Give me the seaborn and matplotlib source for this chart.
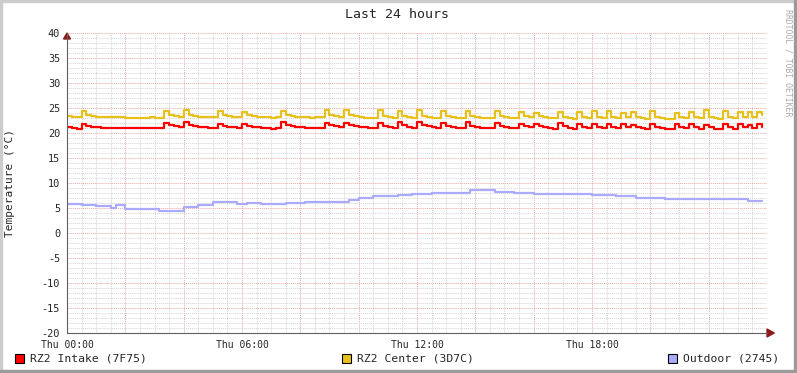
import matplotlib
matplotlib.use("Agg")
import matplotlib.pyplot as plt
from matplotlib.patches import Rectangle, Polygon
from matplotlib.ticker import MultipleLocator
import numpy as np
import seaborn as sns

# readings every 10 minutes, Thu 00:00 .. 23:50
intake = [
    21.3, 21.1, 20.9, 21.9, 21.5, 21.3, 21.2, 21.1, 21.1, 21.1, 21.1, 21.1,
    21.1, 21.0, 21.1, 21.1, 21.1, 21.1, 21.0, 21.1, 22.0, 21.6, 21.4, 21.2,
    22.2, 21.6, 21.4, 21.3, 21.2, 21.1, 21.1, 21.9, 21.5, 21.3, 21.2, 21.1,
    21.9, 21.5, 21.3, 21.2, 21.1, 21.1, 20.9, 21.1, 22.2, 21.6, 21.4, 21.3,
    21.2, 21.1, 21.1, 21.0, 21.1, 22.1, 21.6, 21.4, 21.2, 22.1, 21.6, 21.4,
    21.3, 21.2, 21.1, 21.0, 22.0, 21.5, 21.3, 21.1, 22.2, 21.6, 21.3, 21.1,
    22.3, 21.6, 21.4, 21.2, 21.1, 22.1, 21.5, 21.3, 21.1, 21.0, 22.2, 21.5,
    21.3, 21.1, 21.0, 21.0, 22.0, 21.5, 21.3, 21.1, 21.0, 21.9, 21.4, 21.2,
    21.9, 21.4, 21.2, 21.0, 20.9, 22.0, 21.4, 21.1, 20.9, 21.9, 21.3, 21.0,
    21.8, 21.3, 21.0, 21.9, 21.3, 21.0, 21.8, 21.2, 21.7, 21.2, 21.0, 20.8,
    21.8, 21.3, 21.0, 20.8, 20.8, 21.9, 21.3, 21.0, 21.8, 21.2, 20.9, 21.7,
    21.2, 20.9, 20.8, 21.8, 21.2, 20.9, 21.8, 21.2, 21.7, 21.1, 21.8, 21.3,
]
center = [
    23.4, 23.2, 23.2, 24.4, 23.7, 23.5, 23.3, 23.3, 23.3, 23.2, 23.3, 23.3,
    23.1, 23.1, 23.1, 23.1, 23.1, 23.2, 23.1, 23.1, 24.5, 23.6, 23.4, 23.3,
    24.6, 23.6, 23.4, 23.2, 23.2, 23.2, 23.2, 24.4, 23.6, 23.4, 23.2, 23.2,
    24.3, 23.6, 23.4, 23.2, 23.2, 23.2, 23.1, 23.2, 24.5, 23.6, 23.4, 23.2,
    23.2, 23.2, 23.1, 23.2, 23.2, 24.6, 23.6, 23.4, 23.2, 24.7, 23.6, 23.4,
    23.2, 23.1, 23.1, 23.1, 24.6, 23.5, 23.3, 23.1, 24.5, 23.5, 23.3, 23.1,
    24.6, 23.5, 23.3, 23.1, 23.1, 24.4, 23.5, 23.3, 23.1, 23.1, 24.5, 23.5,
    23.3, 23.1, 23.1, 23.0, 24.4, 23.4, 23.2, 23.1, 23.0, 24.3, 23.4, 23.2,
    24.1, 23.4, 23.2, 23.0, 23.0, 24.3, 23.3, 23.1, 22.9, 24.2, 23.3, 23.1,
    24.4, 23.3, 23.1, 24.5, 23.3, 23.1, 24.1, 23.2, 24.3, 23.3, 23.1, 22.9,
    24.4, 23.3, 23.1, 22.9, 22.9, 24.1, 23.3, 23.0, 24.2, 23.3, 23.0, 24.7,
    23.3, 23.1, 22.9, 24.5, 23.3, 23.0, 24.3, 23.2, 24.2, 23.2, 24.2, 23.6,
]
outdoor = [
    5.9, 5.9, 5.9, 5.6, 5.6, 5.6, 5.5, 5.5, 5.5, 5.1, 5.7, 5.7,
    4.9, 4.9, 4.9, 4.9, 4.9, 4.9, 4.9, 4.5, 4.5, 4.5, 4.5, 4.5,
    5.3, 5.3, 5.3, 5.7, 5.7, 5.7, 6.2, 6.2, 6.2, 6.2, 6.2, 5.9,
    5.9, 6.1, 6.1, 6.1, 5.9, 5.9, 5.9, 5.9, 5.9, 6.1, 6.1, 6.1,
    6.1, 6.3, 6.3, 6.3, 6.3, 6.3, 6.3, 6.3, 6.3, 6.3, 6.6, 6.6,
    7.1, 7.1, 7.1, 7.5, 7.5, 7.5, 7.5, 7.5, 7.7, 7.7, 7.7, 7.9,
    7.9, 7.9, 7.9, 8.1, 8.1, 8.1, 8.1, 8.1, 8.1, 8.1, 8.1, 8.6,
    8.6, 8.6, 8.6, 8.6, 8.3, 8.3, 8.3, 8.3, 8.1, 8.1, 8.1, 8.1,
    7.9, 7.9, 7.9, 7.9, 7.9, 7.8, 7.8, 7.8, 7.8, 7.8, 7.8, 7.8,
    7.7, 7.7, 7.7, 7.7, 7.7, 7.5, 7.5, 7.5, 7.5, 7.1, 7.1, 7.1,
    7.1, 7.1, 7.1, 6.9, 6.9, 6.9, 6.9, 6.9, 6.9, 6.9, 6.9, 6.8,
    6.8, 6.8, 6.8, 6.8, 6.8, 6.8, 6.8, 6.8, 6.5, 6.5, 6.5, 6.5,
]
hours = np.arange(len(intake)) / 6.0

series_names = ["RZ2 Intake (7F75)", "RZ2 Center (3D7C)", "Outdoor (2745)"]
series_colors = ["#FF0000", "#E8C01C", "#AAAAFF"]
tick_hours = [0, 6, 12, 18]
tick_labels = ["Thu 00:00", "Thu 06:00", "Thu 12:00", "Thu 18:00"]

sns.set_style("white")
plt.rcParams["font.family"] = ["DejaVu Sans Mono"]
plt.rcParams["axes.unicode_minus"] = False

fig = plt.figure(figsize=(7.97, 3.73), dpi=100, facecolor="white")
ax = fig.add_axes([67 / 797, 40 / 373, 700 / 797, 300 / 373])
ax.set_facecolor("white")

for vals, col in zip([intake, center, outdoor], series_colors):
    sns.lineplot(x=hours, y=vals, ax=ax, color=col, linewidth=1.6,
                 drawstyle="steps-post")

ax.set_xlim(0, 24)
ax.set_ylim(-20, 40)

# grid: gray minor, red major
ax.xaxis.set_minor_locator(MultipleLocator(0.5))
ax.yaxis.set_minor_locator(MultipleLocator(1))
ax.set_xticks(range(0, 24, 2))
ax.set_xticklabels([tick_labels[tick_hours.index(h)] if h in tick_hours else ""
                    for h in range(0, 24, 2)])
ax.set_yticks(range(-20, 45, 5))
ax.grid(which="minor", color="#D4D4D4", linestyle=(0, (1, 1)), linewidth=0.7)
ax.grid(which="major", color="#E8A8A8", linestyle=(0, (1, 1)), linewidth=0.7)
ax.set_axisbelow(True)

ax.tick_params(axis="both", which="major", labelsize=7, length=3, width=0.7,
               direction="out", color="#E06060", pad=2)
ax.tick_params(axis="both", which="minor", length=2, width=0.6,
               direction="out", color="#999999")
ax.tick_params(axis="y", which="major", color="#E06060", labelsize=7.4)

for s in ["top", "right"]:
    ax.spines[s].set_visible(False)
for s in ["left", "bottom"]:
    ax.spines[s].set_color("#606060")
    ax.spines[s].set_linewidth(0.8)

# axis arrows
ax.add_patch(Polygon([[0, 40], [-0.12, 38.8], [0.12, 38.8]], closed=True,
                     transform=ax.transData, clip_on=False, color="#8B1A1A"))
ax.add_patch(Polygon([[24.25, -20], [24.0, -19.2], [24.0, -20.8]], closed=True,
                     transform=ax.transData, clip_on=False, color="#8B1A1A"))

ax.set_ylabel("Temperature (°C)", fontsize=8)
ax.yaxis.set_label_coords(-52 / 700, 0.5)
fig.text(397 / 797, 1 - 14 / 373, "Last 24 hours", ha="center", va="center",
         fontsize=9.5)
fig.text(788 / 797, 1 - 63 / 373, "RRDTOOL / TOBI OETIKER", rotation=270,
         ha="center", va="center", fontsize=5.9, color="#AAAAAA")

# legend
for x0, name, col in zip([15, 342, 668], series_names, series_colors):
    fig.patches.append(Rectangle((x0 / 797, 1 - 363 / 373), 9 / 797, 9 / 373,
                                 transform=fig.transFigure, facecolor=col,
                                 edgecolor="black", linewidth=0.8))
    fig.text((x0 + 15) / 797, 1 - 358.5 / 373, name, ha="left", va="center",
             fontsize=8.2)

# 3d frame
fig.patches.append(Rectangle((0, 1 - 2 / 373), 1, 2 / 373, transform=fig.transFigure,
                             color="#CCCCCC"))
fig.patches.append(Rectangle((0, 0), 2 / 797, 1, transform=fig.transFigure,
                             color="#CCCCCC"))
fig.patches.append(Rectangle((0, 0), 1, 3 / 373, transform=fig.transFigure,
                             color="#9A9A9A"))
fig.patches.append(Rectangle((1 - 3 / 797, 0), 3 / 797, 1, transform=fig.transFigure,
                             color="#9A9A9A"))

fig.savefig("out.png", dpi=100, facecolor="white")
